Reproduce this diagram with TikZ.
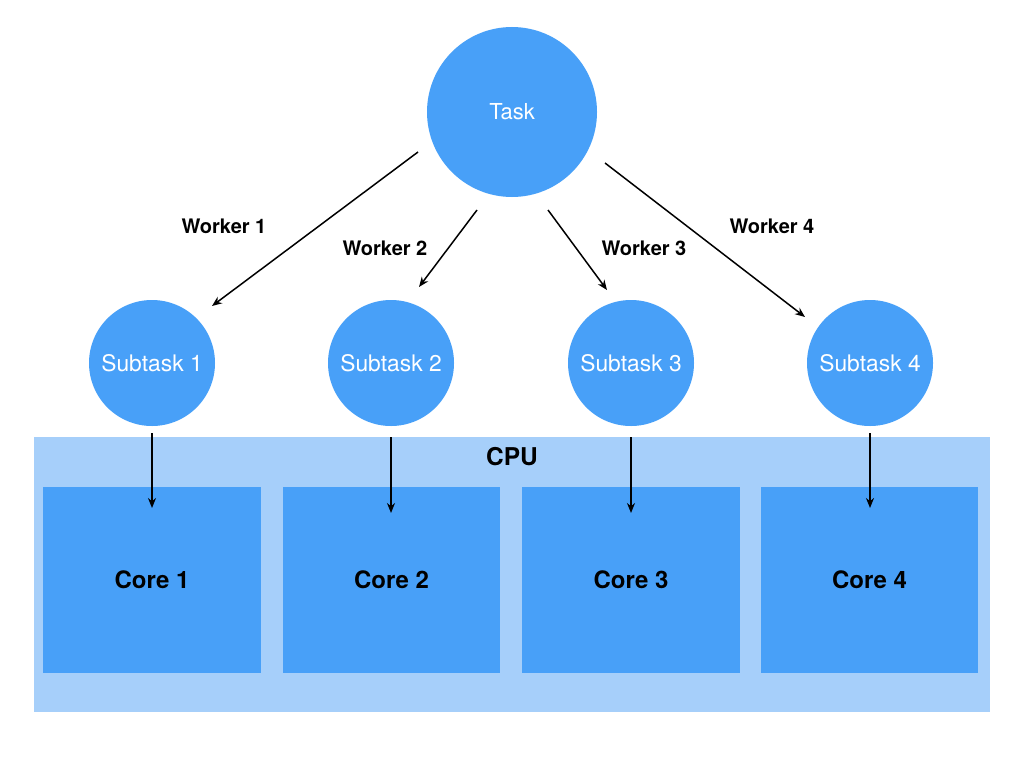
\documentclass[tikz,border=0pt]{standalone}
\usepackage{fontspec}
\setmainfont{TeX Gyre Heros}
\usetikzlibrary{arrows.meta}
\definecolor{nodeblue}{HTML}{48A0F8}
\definecolor{cpublue}{HTML}{A6CFFA}
\begin{document}
\begin{tikzpicture}[x=1pt,y=-1pt,
  bubble/.style={circle,fill=nodeblue,draw=none,text=white,inner sep=0pt},
  corebox/.style={rectangle,fill=nodeblue,draw=none,minimum width=218pt,minimum height=186pt,inner sep=0pt,font=\fontsize{24}{27}\selectfont\bfseries},
  worklabel/.style={font=\fontsize{20}{23}\selectfont\bfseries},
  arr/.style={draw=black,line width=1.5pt,-{Stealth[length=10pt,width=8pt]}}]
\useasboundingbox (0,0) rectangle (1024,768);
\fill[white] (0,0) rectangle (1024,768);
% CPU
\node[rectangle,fill=cpublue,minimum width=956pt,minimum height=275pt,inner sep=0pt] (cpu) at (512,574.5) {};
\node[font=\fontsize{24.5}{27}\selectfont\bfseries] (cpulabel) at (512,457) {CPU};
% Cores
\node[corebox] (core1) at (152,580) {Core 1};
\node[corebox,minimum width=217pt] (core2) at (391.5,580) {Core 2};
\node[corebox] (core3) at (631,580) {Core 3};
\node[corebox,minimum width=217pt] (core4) at (869.5,580) {Core 4};
% Task
\node[bubble,minimum size=170pt,font=\fontsize{22}{25}\selectfont] (task) at (512,112) {Task};
% Subtasks
\node[bubble,minimum size=126pt,font=\fontsize{22.8}{25}\selectfont] (s1) at (152,363) {Subtask 1};
\node[bubble,minimum size=126pt,font=\fontsize{22.8}{25}\selectfont] (s2) at (391,363) {Subtask 2};
\node[bubble,minimum size=126pt,font=\fontsize{22.8}{25}\selectfont] (s3) at (631,363) {Subtask 3};
\node[bubble,minimum size=126pt,font=\fontsize{22.8}{25}\selectfont] (s4) at (870,363) {Subtask 4};
% arrow endpoints
\coordinate (a1s) at (418,152); \coordinate (a1e) at (212,306);
\coordinate (a2s) at (477,210); \coordinate (a2e) at (419,287);
\coordinate (a3s) at (548,210); \coordinate (a3e) at (607,290);
\coordinate (a4s) at (605,163); \coordinate (a4e) at (805,317);
\coordinate (b1s) at (152,433); \coordinate (b1e) at (152,508);
\coordinate (b2s) at (391,437); \coordinate (b2e) at (391,513);
\coordinate (b3s) at (631,437); \coordinate (b3e) at (631,513);
\coordinate (b4s) at (870,433); \coordinate (b4e) at (870,508);
\draw[arr] (a1s) -- (a1e);
\draw[arr] (a2s) -- (a2e);
\draw[arr] (a3s) -- (a3e);
\draw[arr] (a4s) -- (a4e);
\draw[arr] (b1s) -- (b1e);
\draw[arr] (b2s) -- (b2e);
\draw[arr] (b3s) -- (b3e);
\draw[arr] (b4s) -- (b4e);
% labels
\node[worklabel] (w1) at (224,226) {Worker 1};
\node[worklabel] (w2) at (385,248) {Worker 2};
\node[worklabel] (w3) at (644,248) {Worker 3};
\node[worklabel] (w4) at (772,226) {Worker 4};
\end{tikzpicture}
\end{document}
